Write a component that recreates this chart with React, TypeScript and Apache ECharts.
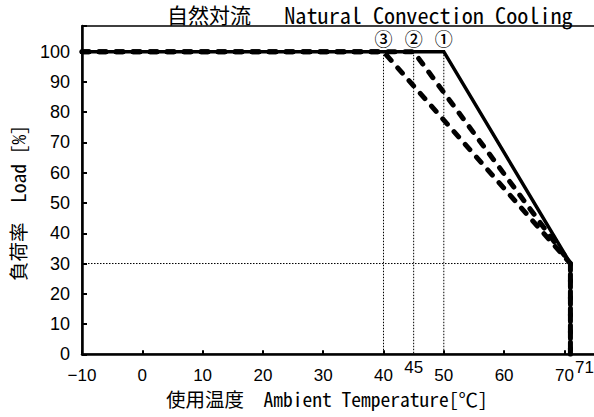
import React, { useEffect, useRef } from 'react';
import * as echarts from 'echarts';

// ---- data ----
const xMin = -10;
const xMax = 80;
const xInterval = 10;
const xLastLabel = 70;
const yMin = 0;
const yMax = 108.5;
const yInterval = 10;
const yLastLabel = 100;

const curveSolid = [[-10, 100], [50, 100], [71, 30], [71, 0]]; // ①
const curveDash2 = [[-10, 100], [45, 100], [71, 30], [71, 0]]; // ②
const curveDash3 = [[-10, 100], [40, 100], [71, 30], [71, 0]]; // ③

const guideXs = [40, 45, 50];
const guideTop = 100;
const guideY = 30;
const guideYEndX = 71;

const markerXs = [40, 45, 50];
const markerTexts = ['③', '②', '①'];
const markerY = 100;

const extraXLabels = [45, 71];

const titleCJK = '自然対流';
const titleLatin = 'Natural Convection Cooling';
const xNameCJK = '使用温度';
const xNameLatin = 'Ambient Temperature[℃]';
const yNameCJK = '負荷率';
const yNameLatin = 'Load [%]';

const GOTHIC = '"Noto Sans Mono CJK JP", "Noto Sans CJK JP", "Liberation Mono", monospace';
const SANS = '"Liberation Sans", Arial, sans-serif';

export default function App() {
  const ref = useRef<HTMLDivElement>(null);
  useEffect(() => {
    if (!ref.current) return;
    const chart = echarts.init(ref.current, undefined, { renderer: 'svg' });

    const dotted = { color: '#000', width: 1, type: [1.5, 1.5] as any };
    const guideSeries: any[] = guideXs.map((x) => ({
      type: 'line',
      data: [[x, guideTop], [x, 0]],
      symbol: 'none',
      lineStyle: dotted,
      silent: true,
      z: 1,
    }));
    guideSeries.push({
      type: 'line',
      data: [[xMin, guideY], [guideYEndX, guideY]],
      symbol: 'none',
      lineStyle: dotted,
      silent: true,
      z: 1,
    });

    const dashStyle = { color: '#000', width: 5, type: [7, 10] as any, cap: 'round' as any, join: 'round' as any };

    chart.setOption({
      animation: false,
      backgroundColor: '#fff',
      title: {
        text: `{a|${titleCJK}}{b|   ${titleLatin}}`,
        left: 167,
        top: 3,
        padding: 0,
        textStyle: {
          fontWeight: 'normal',
          rich: {
            a: { fontFamily: GOTHIC, fontSize: 21, fontWeight: 'normal', color: '#000', lineHeight: 21 },
            b: { fontFamily: GOTHIC, fontSize: 22.2, fontWeight: 'normal', color: '#000', lineHeight: 21 },
          },
        },
      },
      grid: {
        left: 82,
        top: 26,
        width: 542.7,
        height: 328.3,
        show: true,
        borderColor: '#000',
        borderWidth: 1.5,
        backgroundColor: 'transparent',
        outerBoundsMode: 'none',
        containLabel: false,
      },
      xAxis: {
        type: 'value',
        min: xMin,
        max: xMax,
        interval: xInterval,
        axisLine: { show: true, onZero: false, lineStyle: { color: '#000', width: 2.5 } },
        axisTick: { show: true, inside: true, length: 4, lineStyle: { color: '#000', width: 2 } },
        splitLine: { show: false },
        axisLabel: {
          margin: 13,
          color: '#000',
          fontFamily: SANS,
          fontSize: 17,
          formatter: (v: number) => (v > xLastLabel ? '' : v < 0 ? '−' + Math.abs(v) : String(v)),
        },
      },
      yAxis: {
        type: 'value',
        min: yMin,
        max: yMax,
        interval: yInterval,
        axisLine: { show: true, onZero: false, lineStyle: { color: '#000', width: 2.5 } },
        axisTick: { show: true, inside: true, length: 5, lineStyle: { color: '#000', width: 2 } },
        splitLine: { show: false },
        axisLabel: {
          margin: 12,
          color: '#000',
          fontFamily: SANS,
          fontSize: 18,
          formatter: (v: number) => (v > yLastLabel || v % yInterval !== 0 ? '' : String(v)),
        },
      },
      graphic: [
        {
          type: 'text',
          left: 166,
          top: 389,
          style: {
            text: `${xNameCJK}　${xNameLatin}`,
            font: `19.5px ${GOTHIC}`,
            fill: '#000',
          },
        },
        {
          type: 'text',
          x: 17,
          y: 203,
          rotation: Math.PI / 2,
          style: {
            text: `${yNameCJK}　${yNameLatin}`,
            font: `19.5px ${GOTHIC}`,
            fill: '#000',
            align: 'center',
            verticalAlign: 'middle',
          },
        },
      ],
      series: [
        ...guideSeries,
        {
          type: 'line',
          data: curveDash3,
          symbol: 'none',
          lineStyle: dashStyle,
          z: 2,
        },
        {
          type: 'line',
          data: curveDash2,
          symbol: 'none',
          lineStyle: dashStyle,
          z: 2,
        },
        {
          type: 'line',
          data: curveSolid,
          symbol: 'none',
          lineStyle: { color: '#000', width: 3.5, join: 'miter' as any },
          z: 3,
        },
        {
          type: 'scatter',
          data: markerXs.map((x, i) => ({ value: [x, markerY], name: markerTexts[i] })),
          symbolSize: 0,
          itemStyle: { color: '#000', opacity: 1 },
          silent: true,
          z: 4,
          label: {
            show: true,
            position: 'top',
            distance: 6,
            lineHeight: 16,
            formatter: (p: any) => p.name,
            color: '#000',
            fontFamily: '"Noto Sans CJK JP", sans-serif',
            fontWeight: 500,
            fontSize: 18,
          },
        },
        {
          type: 'scatter',
          data: extraXLabels.map((x, i) => ({
            value: [x, 0],
            label: i === extraXLabels.length - 1 ? { offset: [14, 0] } : undefined,
          })),
          symbolSize: 0,
          itemStyle: { color: '#000', opacity: 1 },
          silent: true,
          z: 4,
          label: {
            show: true,
            position: 'bottom',
            distance: 5,
            formatter: (p: any) => String(p.value[0]),
            color: '#000',
            fontFamily: SANS,
            fontSize: 17,
          },
        },
      ],
    });
    return () => chart.dispose();
  }, []);
  return (
    <div
      ref={ref}
      style={{ position: 'absolute', left: 0, top: 0, width: 594, height: 417 }}
    />
  );
}
